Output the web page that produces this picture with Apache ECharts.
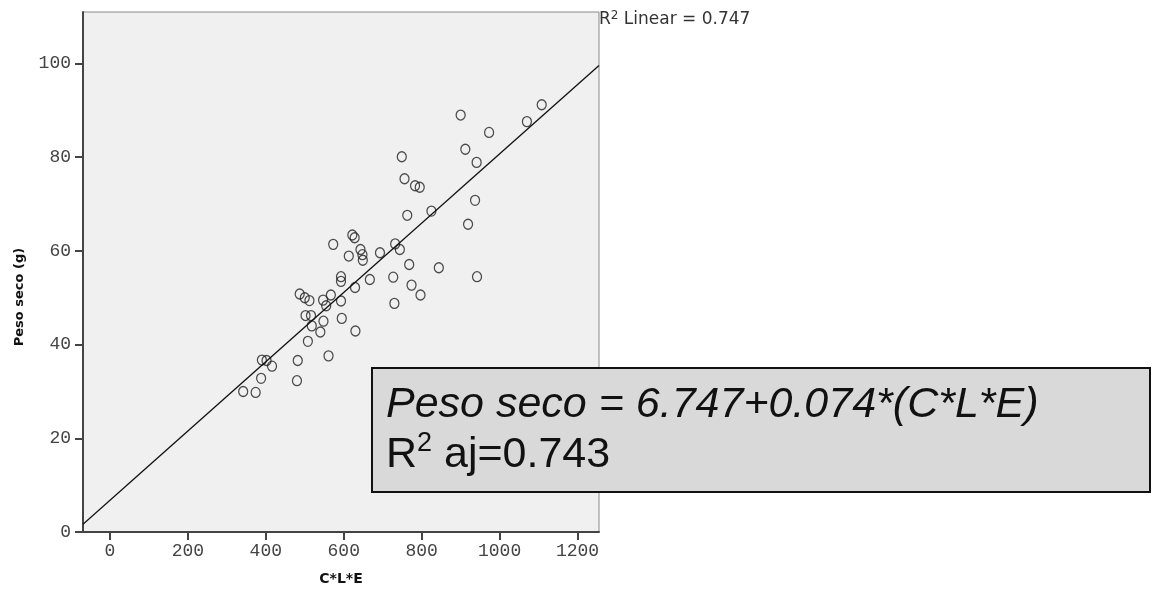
<!DOCTYPE html>
<html>
<head>
<meta charset="utf-8">
<script src="https://cdn.jsdelivr.net/npm/echarts@6/dist/echarts.min.js"></script>
<style>
html,body{margin:0;padding:0;background:#fff;}
#chart{width:1155px;height:593px;}
</style>
</head>
<body>
<div id="chart"></div>
<script>
// C*L*E values (x)
const cleValues = [1108,1070,900,973,912,941,749,756,783,795,937,825,763,919,622,628,573,732,744,643,648,649,613,693,768,844,942,727,774,797,730,667,629,593,593,567,593,595,630,561,547,555,548,540,487,500,512,502,516,518,508,482,480,390,402,416,388,342,374];
// Peso seco (g) values (y)
const pesoValues = [91.2,87.6,89.0,85.3,81.7,78.9,80.1,75.4,73.9,73.6,70.8,68.5,67.6,65.7,63.4,62.8,61.4,61.5,60.3,60.3,59.2,58.0,58.9,59.6,57.1,56.4,54.5,54.4,52.7,50.6,48.8,53.9,52.2,54.5,53.5,50.6,49.3,45.6,42.9,37.6,49.5,48.3,45.0,42.7,50.8,50.0,49.4,46.2,46.2,44.0,40.7,36.6,32.3,36.7,36.6,35.4,32.8,30.0,29.8];
// fit line end points (x, y)
const fitLineX = [-69, 1255];
const fitLineY = [1.64, 99.6];
const xTicks = [0,200,400,600,800,1000,1200];
const yTicks = [0,20,40,60,80,100];
const xTitle = 'C*L*E';
const yTitle = 'Peso seco (g)';
const equationText = 'Peso seco = 6.747+0.074*(C*L*E)';
const r2AdjValue = '0.743';
const r2LinearValue = '0.747';

const points = cleValues.map((x, i) => [x, pesoValues[i]]);
const fitLine = fitLineX.map((x, i) => [x, fitLineY[i]]);

const chart = echarts.init(document.getElementById('chart'), null, {renderer: 'canvas'});
const labelFont = {fontFamily: 'Liberation Mono', fontSize: 18, color: '#444'};
chart.setOption({
  animation: false,
  backgroundColor: '#ffffff',
  grid: {
    left: 83, right: 556, top: 12, bottom: 61,
    show: true, backgroundColor: '#f0f0f0', borderColor: '#8a8a8a', borderWidth: 1
  },
  xAxis: {
    type: 'value', min: -69, max: 1255,
    name: xTitle, nameLocation: 'middle', nameGap: 40,
    nameTextStyle: {fontFamily: 'DejaVu Sans', fontWeight: 'bold', fontSize: 14, color: '#111'},
    axisLine: {show: true, onZero: false, lineStyle: {color: '#444', width: 2}},
    axisTick: {show: true, length: 8, lineStyle: {color: '#444', width: 2}, customValues: xTicks},
    axisLabel: {show: true, margin: 10, customValues: xTicks, formatter: v => String(v), ...labelFont},
    splitLine: {show: false}
  },
  yAxis: {
    type: 'value', min: 0, max: 111,
    axisLine: {show: true, onZero: false, lineStyle: {color: '#444', width: 2}},
    axisTick: {show: true, length: 8, lineStyle: {color: '#444', width: 2}, customValues: yTicks},
    axisLabel: {show: true, margin: 12, customValues: yTicks, formatter: v => String(v), ...labelFont},
    splitLine: {show: false}
  },
  series: [
    {
      type: 'scatter', data: points, symbol: 'circle', symbolSize: [9, 10],
      itemStyle: {color: 'rgba(0,0,0,0)', borderColor: '#222', borderWidth: 1.3},
      z: 2
    },
    {
      type: 'line', data: fitLine, showSymbol: false, symbol: 'none',
      lineStyle: {color: '#111', width: 1.3}, z: 3
    }
  ],
  graphic: [
    {
      type: 'text', z: 10, x: 20, y: 297, rotation: Math.PI / 2,
      style: {
        text: yTitle, fontFamily: 'DejaVu Sans', fontWeight: 'bold', fontSize: 13,
        fill: '#111', align: 'center', verticalAlign: 'middle'
      }
    },
    {
      type: 'text', left: 599, top: 10, z: 10,
      style: {
        rich: {
          r: {fontFamily: 'DejaVu Sans', fontSize: 17, fill: '#333', lineHeight: 20},
          s: {fontFamily: 'DejaVu Sans', fontSize: 12, fill: '#333', verticalAlign: 'top', lineHeight: 13}
        },
        text: '{r|R}{s|2}{r| Linear = ' + r2LinearValue + '}'
      }
    },
    {
      type: 'rect', z: 20,
      shape: {x: 372, y: 368, width: 778, height: 124},
      style: {fill: '#d9d9d9', stroke: '#111', lineWidth: 2}
    },
    {
      type: 'text', z: 21, left: 386, top: 384,
      style: {
        text: equationText, fontFamily: 'Liberation Sans', fontStyle: 'italic',
        fontSize: 43, fill: '#111'
      }
    },
    {
      type: 'text', z: 21, left: 386, top: 430,
      style: {
        rich: {
          r: {fontFamily: 'Liberation Sans', fontSize: 43, fill: '#111', lineHeight: 50},
          s: {fontFamily: 'Liberation Sans', fontSize: 27, fill: '#111', verticalAlign: 'top', lineHeight: 32}
        },
        text: '{r|R}{s|2}{r| aj=' + r2AdjValue + '}'
      }
    }
  ]
});
</script>
</body>
</html>
